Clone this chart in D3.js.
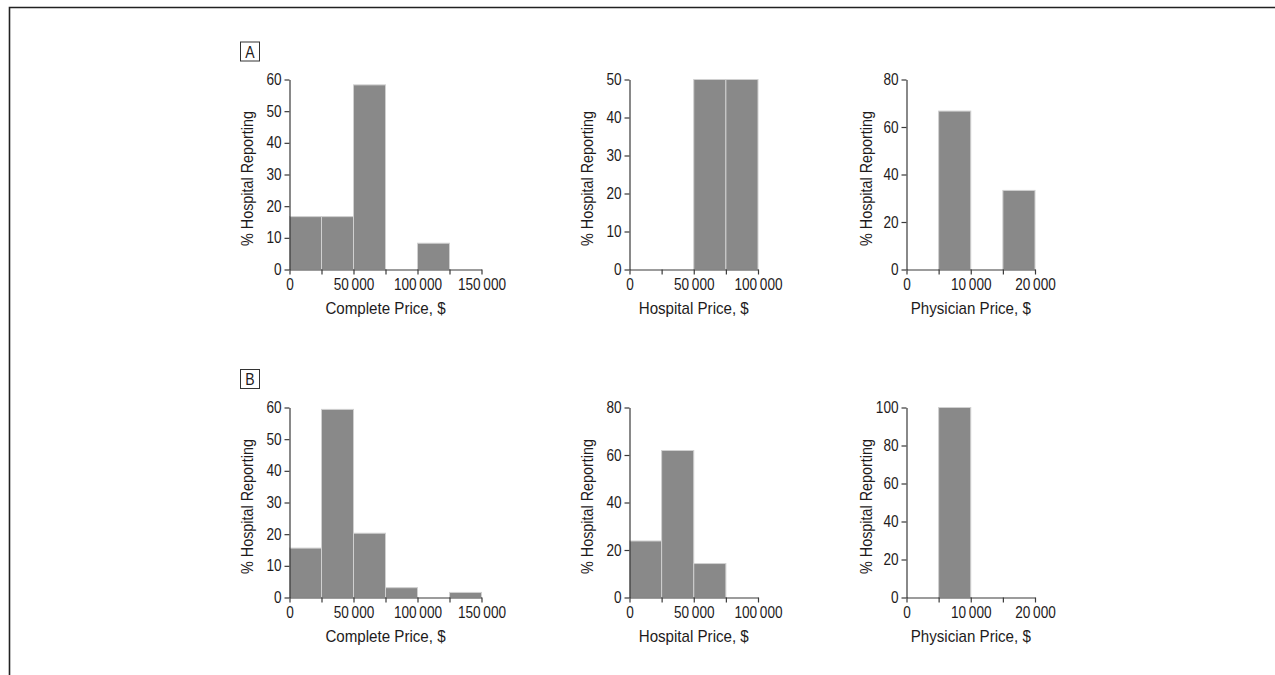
<!DOCTYPE html>
<html>
<head>
<meta charset="utf-8">
<script src="https://cdn.jsdelivr.net/npm/d3@7"></script>
<style>
  html, body { margin: 0; padding: 0; background: #fff; }
  svg text { font-family: "Liberation Sans", Arial, Helvetica, sans-serif; fill: #1e1b1c; }
</style>
</head>
<body>
<svg id="chart" width="1275" height="675"></svg>
<script>
// ---- Data ----
const completeBins = [0, 25000, 50000, 75000, 100000, 125000, 150000];
const hospitalBins = [0, 25000, 50000, 75000, 100000];
const physicianBins = [0, 5000, 10000, 15000, 20000];

const completeLabels = [0, 50000, 100000, 150000];
const hospitalLabels = [0, 50000, 100000];
const physicianLabels = [0, 10000, 20000];

const aCompleteValues = [16.7, 16.7, 58.3, 0, 8.3, 0];
const aHospitalValues = [0, 0, 50, 50];
const aPhysicianValues = [0, 66.7, 0, 33.3];

const bCompleteValues = [15.6, 59.4, 20.3, 3.1, 0, 1.6];
const bHospitalValues = [23.8, 61.9, 14.3, 0];
const bPhysicianValues = [0, 100, 0, 0];

const aCompleteYTicks = [0, 10, 20, 30, 40, 50, 60];
const aHospitalYTicks = [0, 10, 20, 30, 40, 50];
const aPhysicianYTicks = [0, 20, 40, 60, 80];
const bCompleteYTicks = [0, 10, 20, 30, 40, 50, 60];
const bHospitalYTicks = [0, 20, 40, 60, 80];
const bPhysicianYTicks = [0, 20, 40, 60, 80, 100];

const yTitle = "% Hospital Reporting";
const xTitles = ["Complete Price, $", "Hospital Price, $", "Physician Price, $"];
const panelLetters = ["A", "B"];

// ---- Layout ----
const svg = d3.select("#chart");
const barColor = "#898989";
const axisColor = "#3a3a3a";
const plotH = 190;
const rowBase = [269.5, 597.5];
const cols = [
  { x0: 289.5, w: 192, titleX: 252.5 },
  { x0: 629.5, w: 128.5, titleX: 593 },
  { x0: 906.5, w: 128.5, titleX: 872 }
];
const tickFont = 16, tickSX = 0.85;
const fmt = v => v === 0 ? "0" : d3.format(",")(v).replace(/,/g, "\u2009");

// condense axis tick text horizontally around its anchor point
function condense(sel, sx) {
  sel.each(function () {
    const t = d3.select(this);
    const x = +t.attr("x") || 0, y = +t.attr("y") || 0;
    t.attr("x", 0).attr("y", 0)
      .attr("transform", `translate(${x},${y}) scale(${sx},1)`);
  });
}

// outer frame (top and left)
svg.append("path")
  .attr("d", "M9.5,675 L9.5,7.5 L1275,7.5")
  .attr("fill", "none").attr("stroke", "#222").attr("stroke-width", 1.6);

function panel(row, col, bins, values, yTicks, labels, xTitle) {
  const c = cols[col];
  const base = rowBase[row];
  const x = d3.scaleLinear().domain([bins[0], bins[bins.length - 1]]).range([c.x0, c.x0 + c.w]);
  const y = d3.scaleLinear().domain([0, yTicks[yTicks.length - 1]]).range([base, base - plotH]);
  const g = svg.append("g");

  // bars
  const data = values.map((v, i) => ({ x0: bins[i], x1: bins[i + 1], v }));
  g.selectAll("rect").data(data.filter(d => d.v > 0)).join("rect")
    .attr("x", d => x(d.x0))
    .attr("width", d => x(d.x1) - x(d.x0))
    .attr("y", d => y(d.v))
    .attr("height", d => y(0) - y(d.v))
    .attr("fill", barColor)
    .attr("stroke", "#d0d0d0")
    .attr("stroke-width", 1);

  // y axis
  const ya = g.append("g").attr("transform", `translate(${c.x0},0)`)
    .call(d3.axisLeft(y).tickValues(yTicks).tickSize(5).tickSizeOuter(0).tickPadding(3).tickFormat(fmt));
  ya.select(".domain").attr("stroke", axisColor).attr("stroke-width", 1.2);
  ya.selectAll(".tick line").attr("stroke", axisColor).attr("stroke-width", 1.2);
  ya.selectAll(".tick text").attr("font-size", tickFont).attr("fill", "#1e1b1c").call(condense, tickSX);

  // x axis
  const xa = g.append("g").attr("transform", `translate(0,${base})`)
    .call(d3.axisBottom(x).tickValues(bins).tickSize(5).tickSizeOuter(0).tickPadding(4)
      .tickFormat(v => labels.includes(v) ? fmt(v) : ""));
  xa.select(".domain").attr("stroke", axisColor).attr("stroke-width", 1.2);
  xa.selectAll(".tick line").attr("stroke", axisColor).attr("stroke-width", 1.2);
  xa.selectAll(".tick text").attr("font-size", tickFont).attr("fill", "#1e1b1c").call(condense, tickSX);

  // titles
  g.append("text")
    .attr("transform", `translate(${c.titleX},${base - plotH / 2 + 4}) rotate(-90) scale(0.845,1)`)
    .attr("text-anchor", "middle").attr("font-size", 17).text(yTitle);
  g.append("text")
    .attr("transform", `translate(${c.x0 + c.w / 2},${base + 44}) scale(0.89,1)`)
    .attr("text-anchor", "middle").attr("font-size", 17).text(xTitle);
}

panel(0, 0, completeBins, aCompleteValues, aCompleteYTicks, completeLabels, xTitles[0]);
panel(0, 1, hospitalBins, aHospitalValues, aHospitalYTicks, hospitalLabels, xTitles[1]);
panel(0, 2, physicianBins, aPhysicianValues, aPhysicianYTicks, physicianLabels, xTitles[2]);
panel(1, 0, completeBins, bCompleteValues, bCompleteYTicks, completeLabels, xTitles[0]);
panel(1, 1, hospitalBins, bHospitalValues, bHospitalYTicks, hospitalLabels, xTitles[1]);
panel(1, 2, physicianBins, bPhysicianValues, bPhysicianYTicks, physicianLabels, xTitles[2]);

// panel letters
const letterY = [42, 369.5];
panelLetters.forEach((L, i) => {
  svg.append("rect").attr("x", 240.5).attr("y", letterY[i]).attr("width", 19).attr("height", 19)
    .attr("fill", "none").attr("stroke", "#333").attr("stroke-width", 1);
  svg.append("text")
    .attr("transform", `translate(250,${letterY[i] + 15.5}) scale(0.85,1)`)
    .attr("text-anchor", "middle").attr("font-size", 16.5).text(L);
});
</script>
</body>
</html>
